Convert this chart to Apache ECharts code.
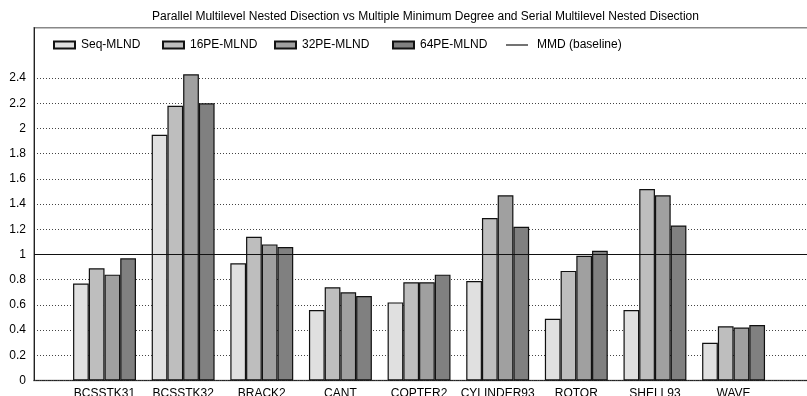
<!DOCTYPE html>
<html>
<head>
<meta charset="utf-8">
<script src="https://cdn.jsdelivr.net/npm/echarts@6/dist/echarts.min.js"></script>
<style>html,body{margin:0;padding:0;background:#fff;}#c{width:807px;height:396px;}</style>
</head>
<body>
<div id="c"></div>
<script>
const titleText = 'Parallel Multilevel Nested Disection vs Multiple Minimum Degree and Serial Multilevel Nested Disection';
const categories = ['BCSSTK31','BCSSTK32','BRACK2','CANT','COPTER2','CYLINDER93','ROTOR','SHELL93','WAVE'];
const seqMLND  = [0.77, 1.95, 0.93, 0.56, 0.62, 0.79, 0.49, 0.56, 0.30];
const pe16MLND = [0.89, 2.18, 1.14, 0.74, 0.78, 1.29, 0.87, 1.52, 0.43];
const pe32MLND = [0.84, 2.43, 1.08, 0.70, 0.78, 1.47, 0.99, 1.47, 0.42];
const pe64MLND = [0.97, 2.20, 1.06, 0.67, 0.84, 1.22, 1.03, 1.23, 0.44];
const baselineMMD = 1;
const seriesNames = ['Seq-MLND','16PE-MLND','32PE-MLND','64PE-MLND'];
const baselineName = 'MMD (baseline)';
const seriesColors = ['#e0e0e0','#bebebe','#a0a0a0','#808080'];
const yMax = 2.8, yLabelMax = 2.4, yStep = 0.2;

const font = 'Liberation Sans, Arial, sans-serif';
const chart = echarts.init(document.getElementById('c'), null, {renderer:'canvas'});

const splitColors = [];
for (let i = 0; i <= Math.round(yMax / yStep); i++) {
  splitColors.push(i * yStep <= yLabelMax + 1e-9 ? '#444' : 'rgba(0,0,0,0)');
}

const barSeries = [seqMLND, pe16MLND, pe32MLND, pe64MLND].map((d, i) => ({
  name: seriesNames[i],
  type: 'bar',
  xAxisIndex: 1,
  yAxisIndex: 1,
  data: d,
  barGap: '0%',
  barCategoryGap: '20%',
  itemStyle: {color: seriesColors[i], borderColor: '#111', borderWidth: 1.2},
  z: 3
}));

const legendLefts = [48, 157, 269, 387, 501];
const legendNames = seriesNames.concat([baselineName]);
const legends = legendNames.map((n, i) => {
  const isLine = n === baselineName;
  return {
    left: legendLefts[i], top: 34,
    itemWidth: isLine ? 22 : 21, itemHeight: 7,
    data: [isLine ? {name: n, icon: 'path://M0 0H30V1.5H0Z', itemStyle: {color: '#000'}} : {name: n, icon: 'rect'}],
    textStyle: {fontFamily: font, fontSize: 12, color: '#000', padding: [0, 0, 0, isLine ? 4 : 1]},
    selectedMode: false
  };
});

chart.setOption({
  animation: false,
  title: {
    text: titleText, left: 420.5, top: 6, textAlign: 'center',
    textStyle: {fontFamily: font, fontSize: 12, fontWeight: 'normal', color: '#000'}
  },
  legend: legends,
  grid: [
    {left: 34, right: -11, top: 27.7, bottom: 15.5, show: true, borderColor: '#888', borderWidth: 1.5,
     backgroundColor: 'transparent', containLabel: false, outerBoundsMode: 'none'},
    {left: 65.2, width: 707.7, top: 27.7, bottom: 15.5, containLabel: false, outerBoundsMode: 'none'}
  ],
  xAxis: [
    {gridIndex: 0, type: 'value', min: 0, max: 1, axisLabel: {show: false}, axisTick: {show: false}, splitLine: {show: false},
     axisLine: {show: true, onZero: false, lineStyle: {color: '#222', width: 1, type: [1,1]}}},
    {gridIndex: 1, type: 'category', data: categories, axisLine: {show: false}, axisTick: {show: false},
     axisLabel: {fontFamily: font, fontSize: 12, color: '#000', margin: 7, interval: 0}}
  ],
  yAxis: [
    {gridIndex: 0, type: 'value', min: 0, max: yMax, interval: yStep,
     axisLine: {show: true, lineStyle: {color: '#222', width: 1}},
     axisTick: {show: false},
     axisLabel: {fontFamily: font, fontSize: 12, color: '#000', margin: 8,
       formatter: v => v > yLabelMax + 1e-9 ? '' : String(Math.round(v * 10) / 10)},
     splitLine: {show: true, lineStyle: {color: splitColors, width: 1, type: [1,2]}}},
    {gridIndex: 1, type: 'value', min: 0, max: yMax, show: false, splitLine: {show: false}}
  ],
  series: barSeries.concat([{
    name: baselineName,
    type: 'line',
    xAxisIndex: 0, yAxisIndex: 0,
    data: [],
    symbol: 'none',
    lineStyle: {color: '#000', width: 1},
    itemStyle: {color: '#000'},
    z: 10,
    markLine: {
      silent: true, symbol: 'none', label: {show: false},
      lineStyle: {color: '#111', width: 1.2, type: 'solid'},
      data: [{yAxis: baselineMMD}]
    }
  }])
});
</script>
</body>
</html>
